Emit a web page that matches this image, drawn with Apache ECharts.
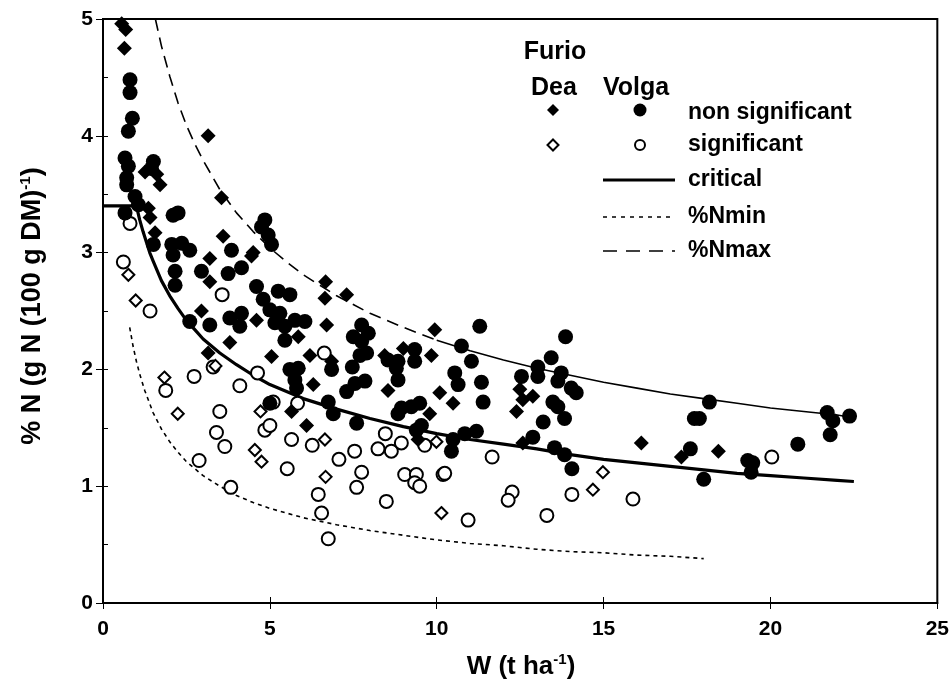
<!DOCTYPE html>
<html>
<head>
<meta charset="utf-8">
<script src="https://cdn.jsdelivr.net/npm/echarts@6/dist/echarts.min.js"></script>
<style>html,body{margin:0;padding:0;background:#fff}#c{width:952px;height:696px}</style>
</head>
<body>
<div id="c"></div>
<script>
// ---- data ----
var xTicks = [0, 5, 10, 15, 20, 25];
var yTicks = [0, 1, 2, 3, 4, 5];

// Dea, non significant (filled diamonds)
var deaNonSig = [[0.56,4.96],[0.68,4.91],[0.64,4.75],[3.15,4.00],[1.26,3.69],[1.61,3.67],[1.71,3.58],[3.55,3.47],[1.41,3.30],[1.36,3.38],[1.56,3.17],[3.60,3.14],[3.20,2.95],[4.50,3.00],[4.45,2.97],[3.80,2.23],[3.15,2.14],[2.95,2.50],[4.60,2.42],[3.20,2.75],[5.05,2.11],[6.67,2.75],[7.30,2.64],[6.65,2.61],[9.94,2.34],[5.85,2.28],[6.70,2.38],[6.20,2.12],[6.85,2.07],[6.30,1.87],[8.44,2.12],[9.00,2.18],[9.84,2.12],[8.54,1.82],[10.09,1.80],[5.65,1.64],[6.10,1.52],[9.79,1.62],[9.44,1.40],[12.49,1.83],[10.49,1.71],[12.58,1.74],[12.88,1.77],[12.39,1.64],[12.58,1.37],[16.13,1.37],[17.33,1.25],[18.44,1.30]];

// Volga, non significant (filled circles)
var volgaNonSig = [[0.81,4.48],[0.81,4.37],[0.88,4.15],[0.76,4.04],[0.66,3.81],[0.76,3.74],[0.71,3.64],[0.71,3.58],[1.51,3.78],[1.45,3.72],[0.96,3.48],[1.06,3.41],[0.66,3.34],[2.10,3.32],[2.25,3.34],[4.85,3.28],[4.75,3.22],[4.95,3.15],[5.05,3.07],[2.06,3.07],[2.36,3.08],[2.60,3.02],[3.85,3.02],[1.51,3.07],[2.60,2.41],[3.20,2.38],[3.80,2.44],[4.15,2.48],[4.10,2.37],[2.16,2.84],[2.16,2.72],[2.95,2.84],[3.75,2.82],[4.15,2.87],[4.60,2.71],[4.80,2.60],[5.00,2.51],[5.00,1.71],[2.10,2.98],[5.25,2.67],[5.60,2.64],[5.30,2.48],[5.75,2.42],[6.05,2.41],[5.45,2.37],[5.45,2.25],[5.15,2.40],[7.75,2.38],[7.95,2.31],[7.50,2.28],[7.75,2.24],[6.85,2.00],[5.60,2.00],[5.85,2.01],[5.75,1.91],[7.47,2.02],[7.70,2.12],[7.90,2.14],[7.55,1.88],[7.85,1.90],[7.30,1.81],[9.34,2.17],[8.54,2.08],[8.84,2.07],[9.34,2.07],[8.84,1.91],[8.79,2.01],[5.80,1.84],[6.75,1.72],[6.90,1.62],[7.60,1.54],[8.94,1.67],[9.24,1.68],[9.49,1.71],[9.54,1.52],[9.39,1.48],[8.84,1.62],[11.29,2.37],[13.86,2.28],[10.74,2.20],[11.04,2.07],[10.54,1.97],[10.64,1.87],[11.34,1.89],[13.43,2.10],[13.03,2.02],[13.03,1.94],[13.73,1.97],[13.63,1.90],[12.54,1.94],[14.03,1.84],[14.18,1.80],[11.39,1.72],[13.48,1.72],[13.63,1.68],[13.83,1.58],[13.19,1.55],[12.88,1.42],[11.19,1.47],[10.84,1.45],[10.49,1.40],[10.44,1.30],[13.53,1.33],[13.83,1.27],[14.05,1.15],[18.17,1.72],[17.87,1.58],[17.72,1.58],[17.60,1.32],[19.32,1.22],[19.47,1.20],[19.42,1.12],[18.00,1.06],[20.82,1.36],[21.70,1.63],[21.87,1.56],[22.37,1.60],[21.79,1.44]];

// Dea, significant (open diamonds)
var deaSig = [[0.76,2.81],[0.98,2.59],[1.84,1.93],[2.24,1.62],[4.55,1.31],[4.75,1.21],[4.72,1.64],[3.37,2.03],[6.65,1.40],[6.67,1.08],[9.99,1.38],[10.14,0.77],[14.98,1.12],[14.68,0.97]];

// Volga, significant (open circles)
var volgaSig = [[0.81,3.25],[0.61,2.92],[1.41,2.50],[3.57,2.64],[2.73,1.94],[1.88,1.82],[4.10,1.86],[4.63,1.97],[3.50,1.64],[3.40,1.46],[3.65,1.34],[2.88,1.22],[3.83,0.99],[4.85,1.48],[5.00,1.52],[3.30,2.02],[6.63,2.14],[5.10,1.72],[5.65,1.40],[6.27,1.35],[5.83,1.71],[5.52,1.15],[7.07,1.23],[7.54,1.30],[7.75,1.12],[7.60,0.99],[6.45,0.93],[6.55,0.77],[6.75,0.55],[8.49,0.87],[8.46,1.45],[8.24,1.32],[8.64,1.30],[8.94,1.37],[9.04,1.10],[9.39,1.10],[9.34,1.03],[9.49,1.00],[9.64,1.35],[10.19,1.10],[11.66,1.25],[10.24,1.11],[12.26,0.95],[12.14,0.88],[13.30,0.75],[10.94,0.71],[14.05,0.93],[20.04,1.25],[15.88,0.89]];

// curves at chosen W values
var critical = [[0,3.40],[1,3.40],[1.1,3.28],[1.2,3.18],[1.3,3.09],[1.4,3.00],[1.5,2.93],[1.75,2.76],[2,2.63],[2.25,2.52],[2.5,2.42],[2.75,2.34],[3,2.26],[3.5,2.14],[4,2.04],[4.5,1.95],[5,1.87],[5.5,1.81],[6,1.75],[7,1.66],[8,1.58],[9,1.51],[10,1.45],[11,1.40],[12,1.36],[13,1.32],[14,1.27],[15,1.23],[16,1.20],[17,1.17],[18,1.14],[19,1.11],[20,1.09],[21,1.07],[22,1.05],[22.5,1.04]];
var nMin = [[0.8,2.36],[0.9,2.20],[1,2.07],[1.1,1.96],[1.25,1.82],[1.5,1.63],[1.75,1.49],[2,1.38],[2.25,1.29],[2.5,1.21],[2.75,1.15],[3,1.09],[3.5,1.00],[4,0.92],[4.5,0.86],[5,0.81],[5.5,0.77],[6,0.73],[7,0.67],[8,0.62],[9,0.58],[10,0.54],[11,0.51],[12,0.49],[13,0.46],[14,0.44],[15,0.43],[16,0.41],[17,0.40],[18,0.38]];
var nMax = [[1.57,5.00],[1.75,4.77],[2,4.51],[2.25,4.28],[2.5,4.09],[2.75,3.93],[3,3.79],[3.5,3.54],[4,3.34],[4.5,3.18],[5,3.04],[5.5,2.92],[6,2.81],[7,2.63],[8,2.48],[9,2.36],[10,2.25],[11,2.16],[12,2.08],[13,2.01],[14,1.95],[15,1.89],[16,1.84],[17,1.79],[18,1.75],[19,1.71],[20,1.67],[21,1.64],[22,1.61],[22.4,1.59]];

// ---- chart ----
var FONT = '"Liberation Sans", Arial, Helvetica, sans-serif';
var chart = echarts.init(document.getElementById('c'), null, {renderer: 'canvas'});
var lbl = {color: '#000', fontFamily: FONT, fontWeight: 'bold', fontSize: 21};

function lineSeries(name, data, width, type) {
  return {
    name: name, type: 'line', data: data, showSymbol: false, smooth: false,
    silent: true, z: 1,
    lineStyle: {color: '#000', width: width, type: type, join: 'round'}
  };
}
function scatter(name, data, symbol, size, filled) {
  return {
    name: name, type: 'scatter', data: data, symbol: symbol, symbolSize: size, silent: true, z: 3,
    itemStyle: filled ? {color: '#000', borderWidth: 0, opacity: 1}
                      : {color: '#fff', borderColor: '#000', borderWidth: 2, opacity: 1}
  };
}

var option = {
  animation: false,
  backgroundColor: '#fff',
  grid: {left: 103, right: 14, top: 19, bottom: 93, show: true, borderColor: '#000', borderWidth: 2, backgroundColor: 'transparent'},
  xAxis: [{
    type: 'value', min: xTicks[0], max: xTicks[xTicks.length - 1], interval: 5, position: 'bottom',
    axisLine: {show: true, lineStyle: {color: '#000', width: 2}},
    axisTick: {show: true, length: 6, lineStyle: {color: '#000', width: 1}},
    axisLabel: Object.assign({margin: 16}, lbl),
    splitLine: {show: false}
  }, {
    type: 'value', min: xTicks[0], max: xTicks[xTicks.length - 1], interval: 5, position: 'bottom',
    axisLine: {show: false}, axisTick: {show: true, inside: true, length: 6, lineStyle: {color: '#000', width: 1}},
    axisLabel: {show: false}, splitLine: {show: false}
  }],
  yAxis: [{
    type: 'value', min: yTicks[0], max: yTicks[yTicks.length - 1], interval: 1, position: 'left',
    axisLine: {show: true, lineStyle: {color: '#000', width: 2}},
    axisTick: {show: true, length: 7, lineStyle: {color: '#000', width: 1}},
    axisLabel: Object.assign({margin: 10}, lbl),
    splitLine: {show: false}
  }, {
    type: 'value', min: yTicks[0], max: yTicks[yTicks.length - 1], interval: 0.5, position: 'left',
    axisLine: {show: false}, axisTick: {show: true, inside: true, length: 5, lineStyle: {color: '#000', width: 1}},
    axisLabel: {show: false}, splitLine: {show: false}
  }],
  series: [
    lineSeries('%Nmin', nMin, 1.6, [4, 4]),
    lineSeries('%Nmax', nMax.filter(function (p) { return p[0] <= 10; }), 1.6, [12, 7]),
    lineSeries('%Nmax ', nMax.filter(function (p) { return p[0] >= 10; }), 1.6, 'solid'),
    lineSeries('critical', critical, 3.2, 'solid'),
    scatter('Volga significant', volgaSig, 'circle', 13, false),
    scatter('Dea significant', deaSig, 'diamond', 12, false),
    scatter('Volga non significant', volgaNonSig, 'circle', 15, true),
    scatter('Dea non significant', deaNonSig, 'diamond', 15, true)
  ],
  graphic: [
    // axis titles
    {type: 'text', x: 33, y: 306, rotation: Math.PI / 2, style: {
      text: '{a|% N (g N (100 g DM)}{s|-1}{a|)}', align: 'center', verticalAlign: 'middle', fill: '#000',
      rich: {a: {fontFamily: FONT, fontWeight: 'bold', fontSize: 27, fill: '#000'},
             s: {fontFamily: FONT, fontWeight: 'bold', fontSize: 15, fill: '#000', verticalAlign: 'top', padding: [0, 0, 14, 0]}}}},
    {type: 'text', x: 521, y: 667, style: {
      text: '{a|W (t ha}{s|-1}{a|)}', align: 'center', verticalAlign: 'middle', fill: '#000',
      rich: {a: {fontFamily: FONT, fontWeight: 'bold', fontSize: 26, fill: '#000'},
             s: {fontFamily: FONT, fontWeight: 'bold', fontSize: 15, fill: '#000', verticalAlign: 'top', padding: [0, 0, 14, 0]}}}},
    // legend
    {type: 'text', x: 555, y: 52, style: {text: 'Furio', align: 'center', verticalAlign: 'middle', fill: '#000', font: 'bold 25px ' + FONT}},
    {type: 'text', x: 554, y: 88, style: {text: 'Dea', align: 'center', verticalAlign: 'middle', fill: '#000', font: 'bold 25px ' + FONT}},
    {type: 'text', x: 636, y: 88, style: {text: 'Volga', align: 'center', verticalAlign: 'middle', fill: '#000', font: 'bold 25px ' + FONT}},
    {type: 'polygon', shape: {points: [[553, 104], [559, 110], [553, 116], [547, 110]]}, style: {fill: '#000'}},
    {type: 'circle', shape: {cx: 640, cy: 110, r: 6.5}, style: {fill: '#000'}},
    {type: 'polygon', shape: {points: [[553, 139.5], [558.5, 145], [553, 150.5], [547.5, 145]]}, style: {fill: '#fff', stroke: '#000', lineWidth: 2}},
    {type: 'circle', shape: {cx: 640, cy: 145, r: 5}, style: {fill: '#fff', stroke: '#000', lineWidth: 2}},
    {type: 'text', x: 688, y: 113, style: {text: 'non significant', align: 'left', verticalAlign: 'middle', fill: '#000', font: 'bold 23px ' + FONT}},
    {type: 'text', x: 688, y: 145, style: {text: 'significant', align: 'left', verticalAlign: 'middle', fill: '#000', font: 'bold 23px ' + FONT}},
    {type: 'line', shape: {x1: 603, y1: 180, x2: 675, y2: 180}, style: {stroke: '#000', lineWidth: 3}},
    {type: 'text', x: 688, y: 180, style: {text: 'critical', align: 'left', verticalAlign: 'middle', fill: '#000', font: 'bold 23px ' + FONT}},
    {type: 'line', shape: {x1: 603, y1: 217, x2: 675, y2: 217}, style: {stroke: '#000', lineWidth: 1.6, lineDash: [4, 5]}},
    {type: 'text', x: 688, y: 217, style: {text: '%Nmin', align: 'left', verticalAlign: 'middle', fill: '#000', font: 'bold 23px ' + FONT}},
    {type: 'line', shape: {x1: 603, y1: 251, x2: 675, y2: 251}, style: {stroke: '#000', lineWidth: 1.6, lineDash: [14, 9]}},
    {type: 'text', x: 688, y: 251, style: {text: '%Nmax', align: 'left', verticalAlign: 'middle', fill: '#000', font: 'bold 23px ' + FONT}}
  ]
};
chart.setOption(option);
</script>
</body>
</html>
